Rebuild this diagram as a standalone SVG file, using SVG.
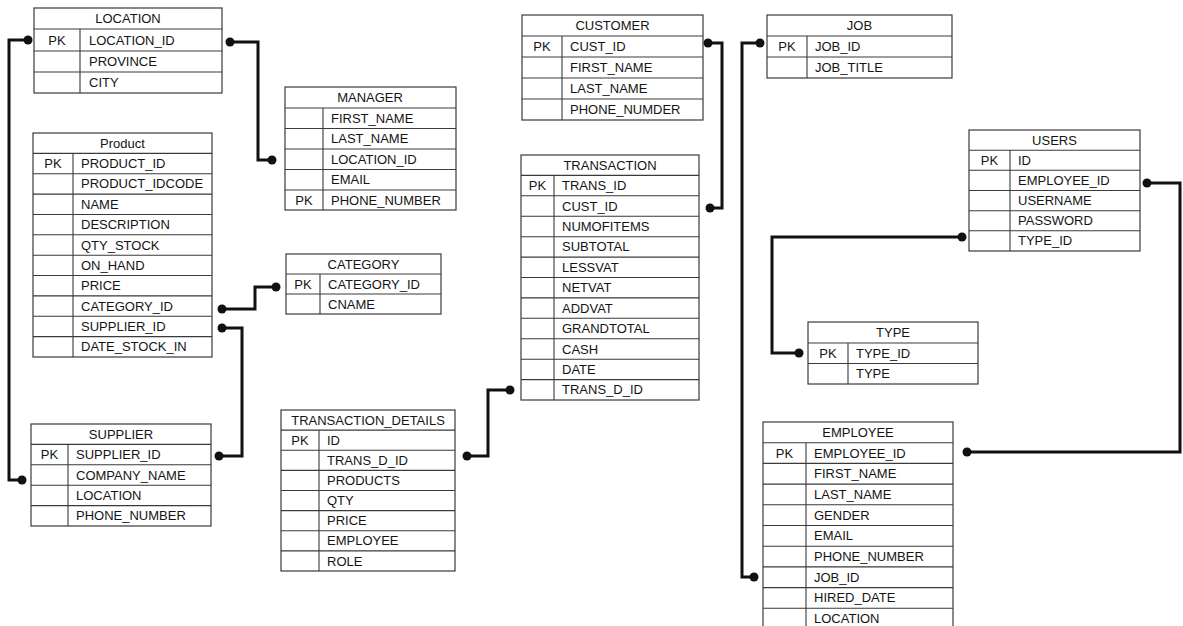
<svg xmlns="http://www.w3.org/2000/svg" width="1183" height="626" viewBox="0 0 1183 626">
<style>
.bx{fill:none;stroke:#3a3a3a;stroke-width:1.2}
.ln{stroke:#3a3a3a;stroke-width:1.1}
text{font-family:"Liberation Sans",Arial,sans-serif;font-size:13px;fill:#141414}
.h{text-anchor:middle}
.pk{text-anchor:middle}
.c{fill:none;stroke:#111;stroke-width:3;stroke-linejoin:miter}
.d{fill:#111}
</style>
<rect width="1183" height="626" fill="#ffffff"/>

<g id="LOCATION">
<rect class="bx" x="34" y="8" width="188" height="85"/>
<path class="ln" d="M34 29H222M34 51H222M34 72H222M80 29V93"/>
<text class="h" x="128" y="23">LOCATION</text>
<text class="pk" x="57" y="44.5">PK</text>
<text x="89" y="44.5">LOCATION_ID</text>
<text x="89" y="66">PROVINCE</text>
<text x="89" y="87">CITY</text>
</g>

<g id="MANAGER">
<rect class="bx" x="285" y="87" width="171" height="123"/>
<path class="ln" d="M285 108H456M285 128.5H456M285 149H456M285 169.5H456M285 190H456M323 108V210"/>
<text class="h" x="370" y="102">MANAGER</text>
<text x="331" y="122.5">FIRST_NAME</text>
<text x="331" y="143">LAST_NAME</text>
<text x="331" y="163.5">LOCATION_ID</text>
<text x="331" y="184">EMAIL</text>
<text class="pk" x="304" y="204.5">PK</text>
<text x="331" y="204.5">PHONE_NUMBER</text>
</g>

<g id="Product">
<rect class="bx" x="33" y="133" width="179" height="224"/>
<path class="ln" d="M33 153.4H212M33 173.7H212M33 194.1H212M33 214.5H212M33 234.8H212M33 255.2H212M33 275.5H212M33 295.9H212M33 316.3H212M33 336.6H212M73 153.4V357"/>
<text class="h" x="122.5" y="147.7">Product</text>
<text class="pk" x="53" y="168">PK</text>
<text x="81" y="168">PRODUCT_ID</text>
<text x="81" y="188.4">PRODUCT_IDCODE</text>
<text x="81" y="208.8">NAME</text>
<text x="81" y="229.2">DESCRIPTION</text>
<text x="81" y="249.5">QTY_STOCK</text>
<text x="81" y="269.9">ON_HAND</text>
<text x="81" y="290.2">PRICE</text>
<text x="81" y="310.6">CATEGORY_ID</text>
<text x="81" y="331">SUPPLIER_ID</text>
<text x="81" y="351.3">DATE_STOCK_IN</text>
</g>

<g id="CATEGORY">
<rect class="bx" x="286" y="254" width="155" height="60"/>
<path class="ln" d="M286 274H441M286 294H441M320 274V314"/>
<text class="h" x="363.5" y="268.5">CATEGORY</text>
<text class="pk" x="303" y="288.5">PK</text>
<text x="328" y="288.5">CATEGORY_ID</text>
<text x="328" y="308.5">CNAME</text>
</g>

<g id="SUPPLIER">
<rect class="bx" x="31" y="424" width="180" height="102"/>
<path class="ln" d="M31 444.4H211M31 464.8H211M31 485.2H211M31 505.6H211M68 444.4V526"/>
<text class="h" x="121" y="438.7">SUPPLIER</text>
<text class="pk" x="49.5" y="459.1">PK</text>
<text x="76" y="459.1">SUPPLIER_ID</text>
<text x="76" y="479.5">COMPANY_NAME</text>
<text x="76" y="499.9">LOCATION</text>
<text x="76" y="520.3">PHONE_NUMBER</text>
</g>

<g id="TRANSACTION_DETAILS">
<rect class="bx" x="281" y="410" width="174" height="161"/>
<path class="ln" d="M281 430.1H455M281 450.25H455M281 470.4H455M281 490.5H455M281 510.6H455M281 530.75H455M281 550.9H455M319 430.1V571"/>
<text class="h" x="368" y="424.6">TRANSACTION_DETAILS</text>
<text class="pk" x="300" y="444.7">PK</text>
<text x="327" y="444.7">ID</text>
<text x="327" y="464.9">TRANS_D_ID</text>
<text x="327" y="485">PRODUCTS</text>
<text x="327" y="505.1">QTY</text>
<text x="327" y="525.2">PRICE</text>
<text x="327" y="545.4">EMPLOYEE</text>
<text x="327" y="565.5">ROLE</text>
</g>

<g id="CUSTOMER">
<rect class="bx" x="522" y="15" width="181" height="105"/>
<path class="ln" d="M522 36H703M522 57H703M522 78H703M522 99H703M562 36V120"/>
<text class="h" x="612.5" y="30">CUSTOMER</text>
<text class="pk" x="542" y="51">PK</text>
<text x="570" y="51">CUST_ID</text>
<text x="570" y="72">FIRST_NAME</text>
<text x="570" y="93">LAST_NAME</text>
<text x="570" y="114">PHONE_NUMDER</text>
</g>

<g id="TRANSACTION">
<rect class="bx" x="521" y="155" width="178" height="245"/>
<path class="ln" d="M521 175.4H699M521 195.8H699M521 216.25H699M521 236.7H699M521 257.1H699M521 277.5H699M521 297.9H699M521 318.3H699M521 338.75H699M521 359.2H699M521 379.6H699M554 175.4V400"/>
<text class="h" x="610" y="169.7">TRANSACTION</text>
<text class="pk" x="537.5" y="190.1">PK</text>
<text x="562" y="190.1">TRANS_ID</text>
<text x="562" y="210.5">CUST_ID</text>
<text x="562" y="231">NUMOFITEMS</text>
<text x="562" y="251.4">SUBTOTAL</text>
<text x="562" y="271.8">LESSVAT</text>
<text x="562" y="292.2">NETVAT</text>
<text x="562" y="312.6">ADDVAT</text>
<text x="562" y="333">GRANDTOTAL</text>
<text x="562" y="353.5">CASH</text>
<text x="562" y="373.9">DATE</text>
<text x="562" y="394.3">TRANS_D_ID</text>
</g>

<g id="JOB">
<rect class="bx" x="767" y="15" width="185" height="63"/>
<path class="ln" d="M767 36H952M767 57H952M807 36V78"/>
<text class="h" x="859.5" y="30">JOB</text>
<text class="pk" x="787" y="51">PK</text>
<text x="815" y="51">JOB_ID</text>
<text x="815" y="72">JOB_TITLE</text>
</g>

<g id="USERS">
<rect class="bx" x="969" y="130" width="171" height="121"/>
<path class="ln" d="M969 150.2H1140M969 170.3H1140M969 190.5H1140M969 210.7H1140M969 230.8H1140M1010 150.2V251"/>
<text class="h" x="1054.5" y="144.6">USERS</text>
<text class="pk" x="989.5" y="164.8">PK</text>
<text x="1018" y="164.8">ID</text>
<text x="1018" y="184.9">EMPLOYEE_ID</text>
<text x="1018" y="205.1">USERNAME</text>
<text x="1018" y="225.3">PASSWORD</text>
<text x="1018" y="245.4">TYPE_ID</text>
</g>

<g id="TYPE">
<rect class="bx" x="808" y="322" width="170" height="62"/>
<path class="ln" d="M808 343H978M808 363.5H978M848 343V384"/>
<text class="h" x="893" y="337">TYPE</text>
<text class="pk" x="828" y="357.5">PK</text>
<text x="856" y="357.5">TYPE_ID</text>
<text x="856" y="378">TYPE</text>
</g>

<g id="EMPLOYEE">
<rect class="bx" x="763" y="422" width="190" height="210"/>
<path class="ln" d="M763 442.7H953M763 463.4H953M763 484.1H953M763 504.8H953M763 525.5H953M763 546.2H953M763 566.9H953M763 587.6H953M763 608.3H953M806 442.7V632"/>
<text class="h" x="858" y="436.5">EMPLOYEE</text>
<text class="pk" x="784.5" y="457.5">PK</text>
<text x="814" y="457.5">EMPLOYEE_ID</text>
<text x="814" y="478">FIRST_NAME</text>
<text x="814" y="498.8">LAST_NAME</text>
<text x="814" y="519.5">GENDER</text>
<text x="814" y="540.2">EMAIL</text>
<text x="814" y="560.9">PHONE_NUMBER</text>
<text x="814" y="581.6">JOB_ID</text>
<text x="814" y="602.3">HIRED_DATE</text>
<text x="814" y="623">LOCATION</text>
</g>

<g id="connectors">
<path class="c" d="M28 40H9V480H22"/>
<circle class="d" cx="28" cy="40" r="4.5"/><circle class="d" cx="22" cy="480" r="4.5"/>
<path class="c" d="M230 42H258V160H272"/>
<circle class="d" cx="230" cy="42" r="4.5"/><circle class="d" cx="272" cy="160" r="4.5"/>
<path class="c" d="M222 309H255V287H276"/>
<circle class="d" cx="222" cy="309" r="4.5"/><circle class="d" cx="276" cy="287" r="4.5"/>
<path class="c" d="M222 328H242V456H219"/>
<circle class="d" cx="222" cy="328" r="4.5"/><circle class="d" cx="219" cy="456" r="4.5"/>
<path class="c" d="M467 456H488V390H510"/>
<circle class="d" cx="467" cy="456" r="4.5"/><circle class="d" cx="510" cy="390" r="4.5"/>
<path class="c" d="M708 43H722V208H710"/>
<circle class="d" cx="708" cy="43" r="4.5"/><circle class="d" cx="710" cy="208" r="4.5"/>
<path class="c" d="M760 43H742V577H754"/>
<circle class="d" cx="760" cy="43" r="4.5"/><circle class="d" cx="754" cy="577" r="4.5"/>
<path class="c" d="M1147 183H1180V452H967"/>
<circle class="d" cx="1147" cy="183" r="4.5"/><circle class="d" cx="967" cy="452" r="4.5"/>
<path class="c" d="M962 237H772V353H799"/>
<circle class="d" cx="962" cy="237" r="4.5"/><circle class="d" cx="799" cy="353" r="4.5"/>
</g>
</svg>
